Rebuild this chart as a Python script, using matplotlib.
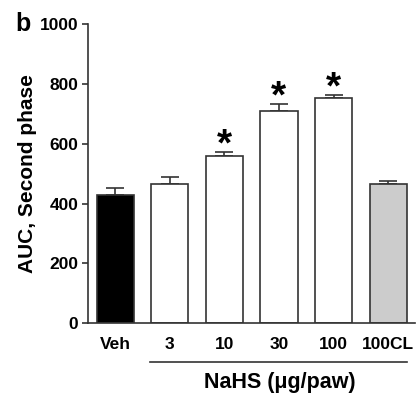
import matplotlib
matplotlib.use("Agg")
import matplotlib.pyplot as plt
import numpy as np

plt.rcParams['font.family'] = ['Liberation Sans', 'DejaVu Sans']
plt.rcParams['font.weight'] = 'bold'

groups = ["Veh", "3", "10", "30", "100", "100CL"]
auc = [430, 466, 560, 711, 755, 466]
sem = [22, 22, 12, 24, 10, 10]
signif = [False, False, True, True, True, False]
colors = ["black", "white", "white", "white", "white", "#cccccc"]

fig = plt.figure(figsize=(4.16, 3.95), dpi=100)
ax = fig.add_axes([0.2115, 0.182, 0.787, 0.756])

x = np.arange(len(groups))
ax.bar(x, auc, width=0.68, color=colors, edgecolor="#333333", linewidth=1.2, zorder=2)
ax.errorbar(x, auc, yerr=[np.zeros(len(sem)), sem], fmt="none", ecolor="#333333",
            elinewidth=1.2, capsize=6.5, capthick=1.2, zorder=1)

for i in range(len(groups)):
    if signif[i]:
        ax.text(x[i], auc[i] + sem[i] - 12, "*", ha="center", va="baseline",
                fontsize=28, fontweight="bold")

ax.set_xlim(-0.5, 5.5)
ax.set_ylim(0, 1000)
ax.set_yticks([0, 200, 400, 600, 800, 1000])
ax.set_xticks(x)
ax.set_xticklabels(groups, fontsize=12.5, fontweight="bold")
ax.tick_params(axis="x", length=0, pad=10)
ax.tick_params(axis="y", labelsize=12.5, length=4, width=1.2, color="#333333", pad=3)
for t in ax.get_yticklabels():
    t.set_fontweight("bold")

ax.spines["top"].set_visible(False)
ax.spines["right"].set_visible(False)
ax.spines["left"].set_color("#333333")
ax.spines["bottom"].set_color("#333333")
ax.spines["left"].set_linewidth(1.2)
ax.spines["bottom"].set_linewidth(1.2)

ax.set_ylabel("AUC, Second phase", fontsize=15, fontweight="bold", labelpad=2)

# bracket line under NaHS doses
ax.plot([0.19, 0.975], [-0.131, -0.131], transform=ax.transAxes, color="#333333",
        lw=1.2, clip_on=False)
ax.text(0.587, -0.198, "NaHS (\u03bcg/paw)", transform=ax.transAxes, ha="center", va="center",
        fontsize=15.5, fontweight="bold")

fig.text(0.036, 0.94, "b", fontsize=18, fontweight="bold", va="center")

fig.savefig("out.png", dpi=100)
